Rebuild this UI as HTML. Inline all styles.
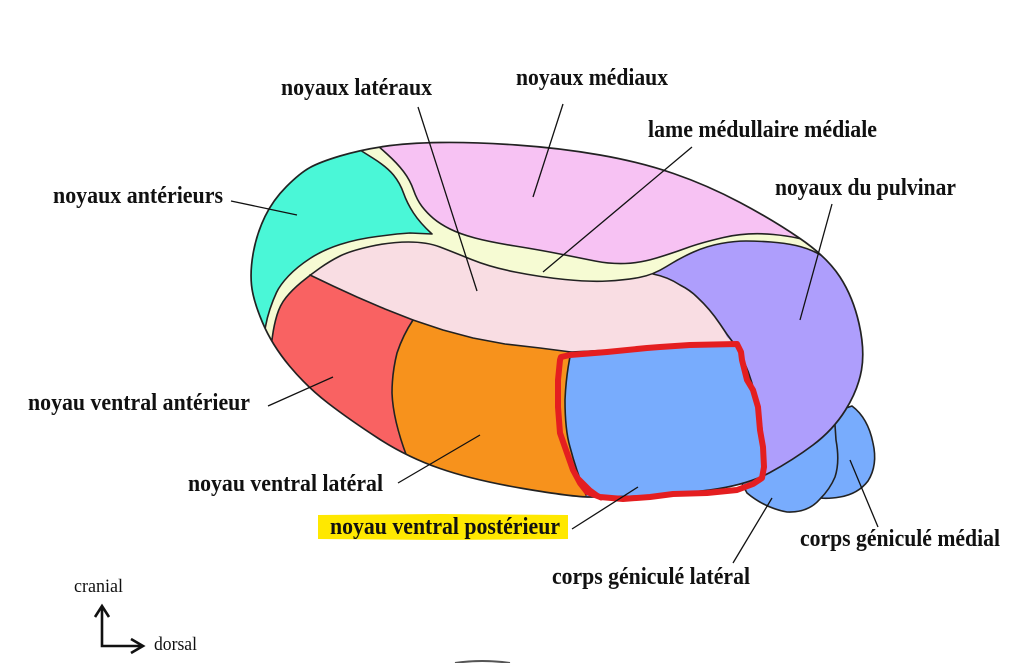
<!DOCTYPE html>
<html>
<head>
<meta charset="utf-8">
<style>
  html,body{margin:0;padding:0;background:#fff;}
  body{width:1018px;height:663px;overflow:hidden;}
  svg{display:block;}
  .lbl{font-family:"Liberation Serif",serif;font-weight:bold;font-size:24px;fill:#111;}
  .reg{font-family:"Liberation Serif",serif;font-size:19px;fill:#111;}
  .ln{stroke:#111;stroke-width:1.3;fill:none;}
  .bd{stroke:#222;stroke-width:1.6;fill:none;stroke-linejoin:round;stroke-linecap:round;}
</style>
</head>
<body>
<svg width="1018" height="663" viewBox="0 0 1018 663" xmlns="http://www.w3.org/2000/svg">
  <defs>
    <clipPath id="body">
      <path id="sil" d="M340,156 Q360,150 383.5,146.5 Q407,143 440,142.5 Q473,142 516.5,145 Q560,148 600,155 Q640,162 673.5,173.5 Q707,185 740,202.5 Q773,220 800,238.5 Q827,257 840,277 Q853,297 859,323.5 Q865,350 861.5,370 Q858,390 845.5,410 Q833,430 813,445 Q793,460 770,472.5 Q747,485 710,490 Q673,495 640,496 Q607,497 590,497 Q573,497 523,488.5 Q473,480 440,468.5 Q407,457 378.5,438.5 Q350,420 328.5,403.5 Q307,387 289.5,366 Q272,345 262.5,322.5 Q253,300 251.5,285 Q250,270 253.5,251.5 Q257,233 265,216.5 Q273,200 286.5,186.5 Q300,173 310,167.5 Q320,162 340,156 Z"/>
    </clipPath>
  </defs>

  <!-- geniculate bodies (behind) -->
  <path d="M840,410 L852,406 Q868,418 873,443 Q878,465 868,481 Q858,494 840,497 Q828,499 820,498 L820,430 Z" fill="#78acfd" stroke="#222" stroke-width="1.6" stroke-linejoin="round"/>
  <path d="M740,480 L747,493 Q765,508 787,512 Q808,513 820,499 Q830,489 835,477 Q840,462 836,440 L835,425 L780,460 Z" fill="#78acfd" stroke="#222" stroke-width="1.6" stroke-linejoin="round"/>

  <!-- main body -->
  <g clip-path="url(#body)">
    <rect x="200" y="100" width="720" height="460" fill="#f7c2f3"/>
    <!-- yellow lamina -->
    <path fill="#f6fbd3" d="M372,135 L377,145 L387,154 Q397,163 403.5,171.5 Q410,180 413.5,190 Q417,200 422,206.5 Q427,213 433.5,218.5 Q440,224 450,229 Q460,234 475,238 Q490,242 515,246 Q540,250 560,254 Q580,258 595,261 Q610,264 625,263.5 Q640,263 656.5,258 Q673,253 686.5,248 Q700,243 723.5,237.5 Q747,232 773.5,234.5 Q800,237 815,243.5 L840,255 L900,260 L900,560 L200,560 L200,120 L372,120 Z"/>
    <!-- teal -->
    <path fill="#4af7d7" d="M350,130 L360,150 L373.5,158.5 Q387,167 393.5,175 Q400,183 403.5,193 Q407,203 413.5,213 Q420,223 432,234 L410,233 L397,234 L377,236.5 Q357,239 340,244.5 Q323,250 310,258.5 Q297,267 288.5,276 Q280,285 276.5,292.5 Q273,300 270,309 Q267,318 265.5,326.5 L264,335 L255,350 L225,350 L225,120 L350,120 Z"/>
    <!-- pink lateral -->
    <path fill="#f9dde3" d="M262,360 L271,347 L272.5,336 Q274,325 277,315 Q280,305 286,297.5 Q292,290 301,282.5 Q310,275 320,268 Q330,261 340,256 Q350,251 370,246.5 Q390,242 408.5,242 Q427,242 440,247 Q453,252 471.5,259.5 Q490,267 515,272 Q540,277 565,279.5 Q590,282 607.5,281 Q625,280 639,277.5 Q653,275 666.5,266.5 Q680,258 693.5,252 Q707,246 721,243.5 Q735,241 746,241 Q757,241 771,242 Q785,243 796,245.5 Q807,248 817,253 Q827,258 850,275 L900,280 L900,560 L230,560 L230,370 Z"/>
    <!-- red VA -->
    <path fill="#f96262" d="M262,360 L271,347 L272.5,336 Q274,325 277,315 Q280,305 286,297.5 Q292,290 301,282.5 L310,275 L333,286 L357,297 L385,309 L413,320 L403,336 L397,353 L393,373 L392,393 L394,413 L398,433 L407,457 L412,490 L240,490 L240,370 Z"/>
    <!-- orange VL -->
    <path fill="#f7921c" d="M413,320 L443,330 L473,338 L505,344 L540,348 L571,352 L567,375 L565,400 L566,425 L570,447 L575,465 L580,480 L586,495 L590,520 L405,520 L407,457 L398,433 L394,413 L392,393 L393,373 L397,353 L403,336 Z"/>
    <!-- blue VP -->
    <path fill="#78acfd" d="M571,352 L610,350 L650,348 L690,346 L735,345 L741,355 L747,368 L753,387 L758,407 L762,427 L763,447 L763,467 L765,480 L770,520 L590,520 L586,495 L580,480 L575,465 L570,447 L566,425 L565,400 L567,375 Z"/>
    <!-- purple pulvinar -->
    <path fill="#ae9efc" d="M639,277.5 Q653,275 666.5,266.5 Q680,258 693.5,252 Q707,246 721,243.5 Q735,241 746,241 Q757,241 771,242 Q785,243 796,245.5 Q807,248 817,253 Q827,258 850,275 L900,280 L900,520 L770,520 L765,480 L763,467 L763,447 L762,427 L758,407 L753,387 L747,368 L741,355 L735,345 L727,337 L720,324 L710,310 L697,297 L680,285 L667,278 L653,274 Z"/>

    <!-- internal boundaries -->
    <path class="bd" d="M350,130 L360,150 L373.5,158.5 Q387,167 393.5,175 Q400,183 403.5,193 Q407,203 413.5,213 Q420,223 432,234 L410,233 L397,234 L377,236.5 Q357,239 340,244.5 Q323,250 310,258.5 Q297,267 288.5,276 Q280,285 276.5,292.5 Q273,300 270,309 Q267,318 265.5,326.5 L264,335 L255,350"/>
    <path class="bd" d="M372,135 L377,145 L387,154 Q397,163 403.5,171.5 Q410,180 413.5,190 Q417,200 422,206.5 Q427,213 433.5,218.5 Q440,224 450,229 Q460,234 475,238 Q490,242 515,246 Q540,250 560,254 Q580,258 595,261 Q610,264 625,263.5 Q640,263 656.5,258 Q673,253 686.5,248 Q700,243 723.5,237.5 Q747,232 773.5,234.5 Q800,237 815,243.5 L840,255"/>
    <path class="bd" d="M262,360 L271,347 L272.5,336 Q274,325 277,315 Q280,305 286,297.5 Q292,290 301,282.5 Q310,275 320,268 Q330,261 340,256 Q350,251 370,246.5 Q390,242 408.5,242 Q427,242 440,247 Q453,252 471.5,259.5 Q490,267 515,272 Q540,277 565,279.5 Q590,282 607.5,281 Q625,280 639,277.5 Q653,275 666.5,266.5 Q680,258 693.5,252 Q707,246 721,243.5 Q735,241 746,241 Q757,241 771,242 Q785,243 796,245.5 Q807,248 817,253 Q827,258 850,275"/>
    <path class="bd" d="M653,274 Q668,277 680,285 Q690,290 697,297 Q710,309 720,324 Q727,335 735,345"/>
    <path class="bd" d="M310,275 L333,286 L357,297 L385,309 L413,320 L443,330 L473,338 L505,344 L540,348 L571,352 L610,350 L650,348 L690,346 L735,345"/>
    <path class="bd" d="M413,320 Q403,335 397,353 Q392,373 392,393 Q393,420 407,457 L412,480"/>
    <path class="bd" d="M571,352 Q566,375 565,400 Q565,430 570,447 Q576,470 586,495"/>
    <path class="bd" d="M735,345 Q747,364 753,387 Q761,415 762,430 Q764,455 763,467 L765,482"/>
  </g>
  <use href="#sil" fill="none" stroke="#222" stroke-width="1.7"/>

  <!-- red hand-drawn outline -->
  <path d="M561,357 L570,355 L607,352 L647,348 L660,347 L690,345 L737,344 L741,352 L742,360 L747,380 L753,390 L758,407 L760,430 L763,447 L764,467 L762,478 L753,484 L737,490 L707,493 L673,494 L650,497 L623,499 L600,497 L587,492 L580,483 L573,470 L567,453 L560,433 L558,407 L558,380 L560,360 Z" fill="none" stroke="#e41e20" stroke-width="6" stroke-linejoin="round" stroke-linecap="round"/>
  <path d="M578,478 L590,490 L601,498" fill="none" stroke="#e41e20" stroke-width="5" stroke-linecap="round"/>

  <!-- leader lines -->
  <line class="ln" x1="418" y1="107" x2="477" y2="291"/>
  <line class="ln" x1="563" y1="104" x2="533" y2="197"/>
  <line class="ln" x1="692" y1="147" x2="543" y2="272"/>
  <line class="ln" x1="231" y1="201" x2="297" y2="215"/>
  <line class="ln" x1="832" y1="204" x2="800" y2="320"/>
  <line class="ln" x1="268" y1="406" x2="333" y2="377"/>
  <line class="ln" x1="398" y1="483" x2="480" y2="435"/>
  <line class="ln" x1="572" y1="529" x2="638" y2="487"/>
  <line class="ln" x1="733" y1="563" x2="772" y2="498"/>
  <line class="ln" x1="878" y1="527" x2="850" y2="460"/>

  <!-- highlight -->
  <path d="M318,515 L440,514 L568,515 L568,539 L440,540 L318,539 Z" fill="#ffe800"/>

  <!-- labels -->
  <text class="lbl" x="281" y="95" textLength="151" lengthAdjust="spacingAndGlyphs">noyaux latéraux</text>
  <text class="lbl" x="516" y="85" textLength="152" lengthAdjust="spacingAndGlyphs">noyaux médiaux</text>
  <text class="lbl" x="648" y="137" textLength="229" lengthAdjust="spacingAndGlyphs">lame médullaire médiale</text>
  <text class="lbl" x="53" y="203" textLength="170" lengthAdjust="spacingAndGlyphs">noyaux antérieurs</text>
  <text class="lbl" x="775" y="195" textLength="181" lengthAdjust="spacingAndGlyphs">noyaux du pulvinar</text>
  <text class="lbl" x="28" y="410" textLength="222" lengthAdjust="spacingAndGlyphs">noyau ventral antérieur</text>
  <text class="lbl" x="188" y="491" textLength="195" lengthAdjust="spacingAndGlyphs">noyau ventral latéral</text>
  <text class="lbl" x="330" y="534" textLength="230" lengthAdjust="spacingAndGlyphs">noyau ventral postérieur</text>
  <text class="lbl" x="800" y="546" textLength="200" lengthAdjust="spacingAndGlyphs">corps géniculé médial</text>
  <text class="lbl" x="552" y="584" textLength="198" lengthAdjust="spacingAndGlyphs">corps géniculé latéral</text>

  <!-- orientation -->
  <text class="reg" x="74" y="592" textLength="49" lengthAdjust="spacingAndGlyphs">cranial</text>
  <text class="reg" x="154" y="650" textLength="43" lengthAdjust="spacingAndGlyphs">dorsal</text>
  <path d="M102,606 L102,646 L143,646" fill="none" stroke="#111" stroke-width="2.6"/>
  <path d="M95,617 L102,606 L109,617" fill="none" stroke="#111" stroke-width="2.6" stroke-linejoin="miter"/>
  <path d="M131,639 L143,646 L131,653" fill="none" stroke="#111" stroke-width="2.6" stroke-linejoin="miter"/>

  <!-- small arc at bottom -->
  <path d="M455,663 Q482,659 510,663" fill="none" stroke="#555" stroke-width="2"/>
</svg>
</body>
</html>
